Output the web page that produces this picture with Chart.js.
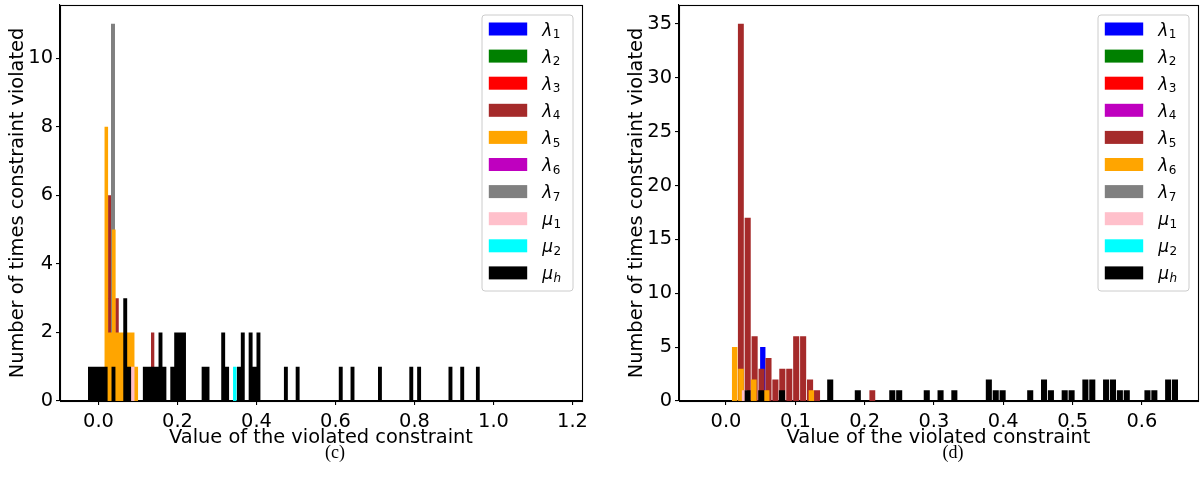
<!DOCTYPE html>
<html>
<head>
<meta charset="utf-8">
<script src="https://cdn.jsdelivr.net/npm/chart.js@4.4.0/dist/chart.umd.min.js"></script>
<style>
  body { margin: 0; background: #fff; width: 1202px; height: 493px; position: relative; overflow: hidden; }
  .panel { position: absolute; top: 0; }
  .cap { position: absolute; top: 441px; font: 18px "Liberation Serif", serif; line-height: 22px; transform: translateX(-50%); color: #000; }
</style>
</head>
<body>
<div class="panel" style="left:0"><canvas id="chartC" width="600" height="450"></canvas></div>
<div class="panel" style="left:600px"><canvas id="chartD" width="602" height="450"></canvas></div>
<div class="cap" style="left:335px">(c)</div>
<div class="cap" style="left:953px">(d)</div>

<script>
// Series names (base letter _ subscript), same order as the legend
const namesC = ['λ_1', 'λ_2', 'λ_3', 'λ_4', 'λ_5', 'λ_6', 'λ_7', 'μ_1', 'μ_2', 'μ_h'];
const namesD = ['λ_1', 'λ_2', 'λ_3', 'λ_4', 'λ_5', 'λ_6', 'λ_7', 'μ_1', 'μ_2', 'μ_h'];

// Panel (c): histogram bins per series (left edge of first bin, bin width, counts)
const binStartC = [0, 0, 0, 0.0241, 0.0147, 0, 0.0316, 0.0815, 0.3405, -0.0266];
const binWidthC = [0.01, 0.01, 0.01, 0.00906, 0.00954, 0.01, 0.0101, 0.0101, 0.0094, 0.00992];
const countsC = [
    [],
    [],
    [],
    [6, 0, 3, 0, 0, 0, 0, 0, 0, 0, 0, 0, 2],
    [8, 2, 5, 2, 2, 2, 2, 2, 1],
    [],
    [11],
    [1],
    [1],
    [1, 1, 1, 1, 1, 0, 1, 0, 0, 3, 1, 0, 0, 0, 1, 1, 1, 1, 2, 1,
     0, 1, 2, 2, 2, 0, 0, 0, 0, 1, 1, 0, 0, 0, 2, 1, 0, 0, 1, 2,
     0, 2, 1, 2, 0, 0, 0, 0, 0, 0, 1, 0, 0, 1, 0, 0, 0, 0, 0, 0,
     0, 0, 0, 0, 1, 0, 0, 1, 0, 0, 0, 0, 0, 0, 1, 0, 0, 0, 0, 0,
     0, 0, 1, 0, 1, 0, 0, 0, 0, 0, 0, 0, 1, 0, 0, 1, 0, 0, 0, 1]
];

// Panel (d)
const binStartD = [0.0486, 0, 0, 0, 0.0163, 0.0078, 0, 0.0220, 0, 0.0260];
const binWidthD = [0.0092, 0.01, 0.01, 0.01, 0.01, 0.00924, 0.01, 0.0095, 0.01, 0.00995];
const countsD = [
    [5],
    [],
    [],
    [],
    [35, 17, 6, 3, 4, 2, 3, 3, 6, 6, 2, 1, 0, 0, 0, 0, 0, 0, 0, 1],
    [5, 3, 0, 2, 0, 1, 0, 0, 0, 0, 0, 0, 1],
    [],
    [1],
    [],
    [1, 0, 1, 0, 0, 1, 0, 0, 0, 0, 0, 0, 2, 0, 0, 0, 1, 0, 0, 0,
     0, 1, 1, 0, 0, 0, 1, 0, 1, 0, 1, 0, 0, 0, 0, 2, 1, 1, 0, 0,
     0, 1, 0, 2, 1, 0, 1, 1, 0, 2, 2, 0, 2, 2, 1, 1, 0, 0, 1, 1,
     0, 2, 2]
];

// Axis ticks
const xTicksC = [0.0, 0.2, 0.4, 0.6, 0.8, 1.0, 1.2];
const yTicksC = [0, 2, 4, 6, 8, 10];
const xTicksD = [0.0, 0.1, 0.2, 0.3, 0.4, 0.5, 0.6];
const yTicksD = [0, 5, 10, 15, 20, 25, 30, 35];

// Styles
const colorsC = ['#0000ff', '#008000', '#ff0000', '#a52a2a', '#ffa500', '#bf00bf', '#808080', '#ffc0cb', '#00ffff', '#000000'];
const colorsD = ['#0000ff', '#008000', '#ff0000', '#bf00bf', '#a52a2a', '#ffa500', '#808080', '#ffc0cb', '#00ffff', '#000000'];
// back-to-front drawing order (series indices)
const drawOrderC = [0, 1, 2, 5, 3, 6, 4, 7, 8, 9];
const drawOrderD = [0, 1, 2, 3, 4, 5, 6, 7, 8, 9];

Chart.defaults.font.family = '"DejaVu Sans", sans-serif';
Chart.defaults.font.size = 19.4;
Chart.defaults.color = '#000';

// step outline of a histogram; rwidth < 1 leaves a gap between neighbouring bars
function histPoints(start, width, counts, rwidth) {
    const pts = [];
    const inset = (1 - rwidth) / 2 * width;
    counts.forEach((c, i) => {
        const left = start + i * width;
        if (rwidth < 1 || i === 0) {
            pts.push({ x: left + inset, y: c });
            pts.push({ x: left + width - inset, y: 0 });
        } else {
            pts.pop();
            pts.push({ x: left, y: c });
            pts.push({ x: left + width, y: 0 });
        }
    });
    return pts;
}

// frame on all four sides + matplotlib-like legend
const framePlugin = {
    id: 'frameLegend',
    afterDatasetsDraw(chart) {
        const { ctx, chartArea: a } = chart;
        ctx.save();
        ctx.strokeStyle = '#000';
        ctx.lineWidth = 1.1;
        ctx.strokeRect(Math.round(a.left) + 0.5, Math.round(a.top) + 0.5,
            Math.round(a.right) - Math.round(a.left), Math.round(a.bottom) - Math.round(a.top));
        ctx.restore();
    },
    afterDraw(chart, args, opts) {
        const { ctx, chartArea: a } = chart;
        const names = opts.names, colors = opts.colors;
        const w = 91, h = 276;
        const x0 = a.right - 9.5 - w, y0 = a.top + 9.5;
        ctx.save();
        ctx.beginPath();
        ctx.roundRect(x0 + 0.5, y0 + 0.5, w, h, 3);
        ctx.fillStyle = 'rgba(255,255,255,0.8)';
        ctx.fill();
        ctx.strokeStyle = '#cccccc';
        ctx.lineWidth = 1;
        ctx.stroke();
        names.forEach((n, i) => {
            const sy = y0 + 8 + i * 27.1;
            ctx.fillStyle = colors[i];
            ctx.fillRect(x0 + 7.3, sy, 38.4, 13);
            const [base, sub] = n.split('_');
            ctx.fillStyle = '#000';
            ctx.textBaseline = 'alphabetic';
            ctx.font = 'italic 17px "DejaVu Sans"';
            const tx = x0 + 60.7;
            ctx.fillText(base, tx, sy + 13);
            const bw = ctx.measureText(base).width;
            ctx.font = (sub === 'h' ? 'italic ' : '') + '12px "DejaVu Sans"';
            ctx.fillText(sub, tx + bw + 0.5, sy + 15.6);
        });
        ctx.restore();
    }
};

function makeChart(id, cfg) {
    const datasets = cfg.order.slice().reverse().map(i => ({
        label: cfg.names[i],
        data: histPoints(cfg.starts[i], cfg.widths[i], cfg.counts[i], cfg.rwidth),
        stepped: true,
        fill: 'origin',
        backgroundColor: cfg.colors[i],
        borderColor: 'transparent',
        borderWidth: 0,
        pointRadius: 0,
        tension: 0
    }));
    const tickGrid = { display: true, drawOnChartArea: false, drawTicks: true, tickLength: 4, color: '#000', lineWidth: 1.1 };
    return new Chart(document.getElementById(id), {
        type: 'line',
        data: { datasets },
        options: {
            responsive: false,
            animation: false,
            devicePixelRatio: 1,
            layout: { padding: cfg.padding },
            plugins: {
                legend: { display: false },
                tooltip: { enabled: false },
                frameLegend: { names: cfg.names, colors: cfg.colors }
            },
            scales: {
                x: {
                    type: 'linear',
                    min: cfg.xMin,
                    max: cfg.xMax,
                    grid: tickGrid,
                    border: { display: true, color: '#000', width: 1.1 },
                    ticks: { padding: 5, maxRotation: 0, autoSkip: false, callback: v => v.toFixed(1) },
                    afterBuildTicks: s => { s.ticks = cfg.xTicks.map(v => ({ value: v })); },
                    afterFit: s => { s.height = 49; s.paddingLeft = 0; s.paddingRight = 0; },
                    title: { display: true, text: 'Value of the violated constraint', padding: { top: 0, bottom: 0 } }
                },
                y: {
                    type: 'linear',
                    min: 0,
                    max: cfg.yMax,
                    grid: tickGrid,
                    border: { display: true, color: '#000', width: 1.1 },
                    ticks: { padding: 3, autoSkip: false },
                    afterBuildTicks: s => { s.ticks = cfg.yTicks.map(v => ({ value: v })); },
                    afterFit: s => { s.width = cfg.yWidth; s.paddingTop = 0; s.paddingBottom = 0; },
                    title: { display: true, text: 'Number of times constraint violated', padding: { top: cfg.yTitlePad, bottom: 0 } }
                }
            }
        },
        plugins: [framePlugin]
    });
}

document.addEventListener('DOMContentLoaded', function() {
    makeChart('chartC', {
        names: namesC, colors: colorsC, order: drawOrderC,
        starts: binStartC, widths: binWidthC, counts: countsC, rwidth: 1,
        xTicks: xTicksC, yTicks: yTicksC,
        xMin: -0.0975, xMax: 1.224, yMax: 11.55,
        yWidth: 60, yTitlePad: 6,
        padding: { top: 5, right: 18, left: 0, bottom: 0 }
    });
    makeChart('chartD', {
        names: namesD, colors: colorsD, order: drawOrderD,
        starts: binStartD, widths: binWidthD, counts: countsD, rwidth: 0.88,
        xTicks: xTicksD, yTicks: yTicksD,
        xMin: -0.0678, xMax: 0.681, yMax: 36.75,
        yWidth: 79, yTitlePad: 25.5,
        padding: { top: 5, right: 4, left: 0, bottom: 0 }
    });
});
</script>
</body>
</html>
